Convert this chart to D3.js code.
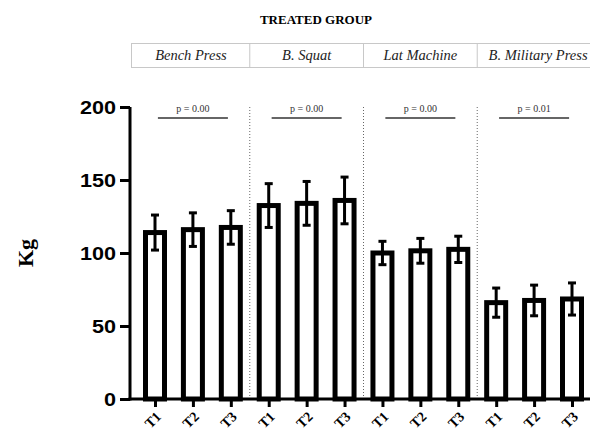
<!DOCTYPE html>
<html><head><meta charset="utf-8">
<script src="https://cdn.jsdelivr.net/npm/d3@7"></script>
<style>body{margin:0;background:#fff}svg{display:block}</style>
</head><body>
<script>
const exercises = ["Bench Press", "B. Squat", "Lat Machine", "B. Military Press"];
const times = ["T1", "T2", "T3"];
const means = [
  [114, 116, 117.5],
  [132.5, 134, 136],
  [100, 101.5, 102.5],
  [66, 67.5, 68.5]
];
const errors = [
  [12, 11.5, 11.5],
  [15, 15, 16],
  [8, 8.5, 9],
  [10, 10.5, 11]
];
const pValues = ["p = 0.00", "p = 0.00", "p = 0.00", "p = 0.01"];
const yTicks = [0, 50, 100, 150, 200];
const title = "TREATED GROUP";
const yLabel = "Kg";

const W = 590, H = 432;
const svg = d3.select("body").append("svg").attr("width", W).attr("height", H);

const rows = [];
exercises.forEach((e, gi) => times.forEach((t, ti) => rows.push({key: gi + "-" + ti, g: gi, t, mean: means[gi][ti], err: errors[gi][ti]})));

const x = d3.scalePoint().domain(rows.map(d => d.key)).range([155, 572]);
const y = d3.scaleLinear().domain([0, 200]).range([399, 107]);
const barW = 19;

// title
svg.append("text").attr("x", 316).attr("y", 24).attr("text-anchor", "middle")
  .attr("font-family", "Liberation Serif").attr("font-weight", "bold").attr("font-size", 13)
  .text(title);

// table header
const tbl = svg.append("g");
tbl.append("line").attr("x1", 131).attr("x2", W).attr("y1", 43.5).attr("y2", 43.5).attr("stroke", "#c8c8c8");
tbl.append("line").attr("x1", 131).attr("x2", W).attr("y1", 67.5).attr("y2", 67.5).attr("stroke", "#c8c8c8");
tbl.append("line").attr("x1", 131.5).attr("x2", 131.5).attr("y1", 43).attr("y2", 68).attr("stroke", "#c8c8c8");
exercises.forEach((e, gi) => {
  const c = (x(gi + "-0") + x(gi + "-2")) / 2;
  if (gi > 0) {
    const sx = (x((gi - 1) + "-2") + x(gi + "-0")) / 2;
    tbl.append("line").attr("x1", sx).attr("x2", sx).attr("y1", 43).attr("y2", 68).attr("stroke", "#c8c8c8");
  }
  tbl.append("text").attr("x", gi === 0 ? c - 2 : c + (gi === 3 ? 4 : 0)).attr("y", 60).attr("text-anchor", "middle")
    .attr("font-family", "Liberation Serif").attr("font-style", "italic").attr("font-size", 14.5).attr("fill", "#222")
    .text(e);
});

// dotted separators
for (let gi = 1; gi < exercises.length; gi++) {
  const sx = (x((gi - 1) + "-2") + x(gi + "-0")) / 2;
  svg.append("line").attr("x1", sx).attr("x2", sx).attr("y1", y(200)).attr("y2", y(0))
    .attr("stroke", "#666").attr("stroke-width", 1).attr("stroke-dasharray", "1,2");
}

// p-value annotations
exercises.forEach((e, gi) => {
  const c = (x(gi + "-0") + x(gi + "-2")) / 2;
  svg.append("line").attr("x1", c - 35).attr("x2", c + 35).attr("y1", 118).attr("y2", 118)
    .attr("stroke", "#333").attr("stroke-width", 1.5);
  svg.append("text").attr("x", c).attr("y", 112).attr("text-anchor", "middle")
    .attr("font-family", "Liberation Serif").attr("font-size", 10).attr("fill", "#333")
    .text(pValues[gi]);
});

// bars
const bars = svg.append("g");
bars.selectAll("rect").data(rows).join("rect")
  .attr("x", d => x(d.key) - barW / 2).attr("width", barW)
  .attr("y", d => y(d.mean)).attr("height", d => y(0) - y(d.mean))
  .attr("fill", "#fff").attr("stroke", "#000").attr("stroke-width", 5);

// error bars
const eb = svg.append("g").attr("stroke", "#000").attr("stroke-width", 3);
eb.selectAll("line.v").data(rows).join("line").attr("class", "v")
  .attr("x1", d => x(d.key)).attr("x2", d => x(d.key))
  .attr("y1", d => y(d.mean + d.err)).attr("y2", d => y(d.mean - d.err));
eb.selectAll("line.t").data(rows).join("line").attr("class", "t")
  .attr("x1", d => x(d.key) - 4).attr("x2", d => x(d.key) + 4)
  .attr("y1", d => y(d.mean + d.err)).attr("y2", d => y(d.mean + d.err));
eb.selectAll("line.b").data(rows).join("line").attr("class", "b")
  .attr("x1", d => x(d.key) - 4).attr("x2", d => x(d.key) + 4)
  .attr("y1", d => y(d.mean - d.err)).attr("y2", d => y(d.mean - d.err));

// y axis
const ya = svg.append("g").attr("transform", "translate(130,0)")
  .call(d3.axisLeft(y).tickValues(yTicks).tickSize(10).tickPadding(3).tickSizeOuter(0));
ya.select(".domain").attr("stroke-width", 3).attr("d", `M0,${y(200)}V${y(0) + 1.5}`);
ya.selectAll(".tick line").attr("stroke-width", 3);
ya.selectAll(".tick text").attr("font-family", "Liberation Sans").attr("font-weight", "bold")
  .attr("font-size", 18).attr("fill", "#000").attr("dy", "0.36em")
  .attr("transform", "scale(1.2,1)").attr("x", -14 / 1.2);

// x axis
const xa = svg.append("g").attr("transform", `translate(0,${y(0)})`)
  .call(d3.axisBottom(x).tickSize(8).tickSizeOuter(0).tickFormat(k => rows.find(r => r.key === k).t));
xa.select(".domain").attr("stroke-width", 3).attr("d", `M128.5,0H${W}`);
xa.selectAll(".tick line").attr("stroke-width", 3);
xa.selectAll(".tick text").attr("font-family", "Liberation Serif").attr("font-weight", "bold")
  .attr("font-size", 14).attr("fill", "#000")
  .attr("text-anchor", "end").attr("dy", "0.35em")
  .attr("transform", "translate(3,15) rotate(-45)").attr("y", 0).attr("x", 0);

// y label
svg.append("text").attr("transform", "translate(33,253) rotate(-90)").attr("text-anchor", "middle")
  .attr("font-family", "Liberation Serif").attr("font-weight", "bold").attr("font-size", 22)
  .text(yLabel);
</script>
</body></html>
